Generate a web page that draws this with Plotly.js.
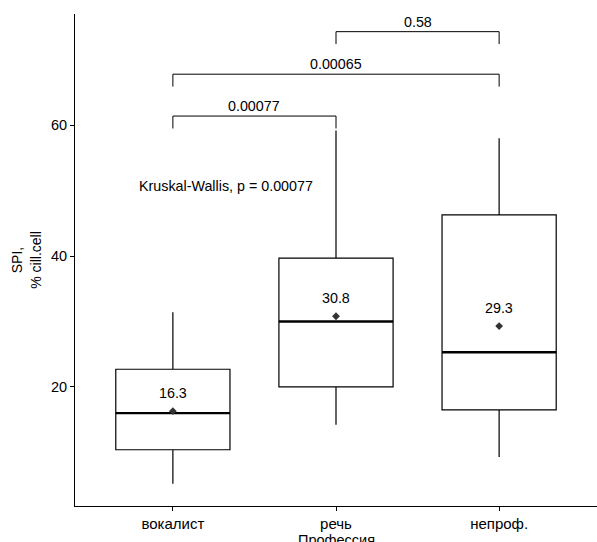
<!DOCTYPE html>
<html>
<head>
<meta charset="utf-8">
<script src="https://cdn.plot.ly/plotly-3.0.1.min.js"></script>
<style>html,body{margin:0;padding:0;background:#fff;}#chart{width:597px;height:542px;}</style>
</head>
<body>
<div id="chart"></div>
<script>
// ---- data ----
const categories = ["вокалист", "речь", "непроф."];
const positions = [1, 2, 3];
const lowerWhisker = [5.2, 14.2, 9.3];
const q1 = [10.4, 20.0, 16.5];
const median = [16.0, 30.0, 25.3];
const q3 = [22.7, 39.7, 46.3];
const upperWhisker = [31.4, 59.2, 58.0];
const means = [16.3, 30.8, 29.3];
const meanLabels = ["16.3", "30.8", "29.3"];

const cmpFrom = [1, 1, 2];
const cmpTo = [2, 3, 3];
const cmpY = [61.4, 67.8, 74.3];
const cmpP = ["0.00077", "0.00065", "0.58"];
const kruskalText = "Kruskal-Wallis, p = 0.00077";
const xTitle = "Профессия";
const yTicks = [20, 40, 60];

// ---- chart ----
const font = "Liberation Sans, Arial, sans-serif";
const txt = 14.3;
const boxW = 0.7;
const traces = [];

traces.push({
  type: "box",
  x: positions,
  q1: q1, median: median, q3: q3,
  lowerfence: lowerWhisker, upperfence: upperWhisker,
  width: boxW,
  fillcolor: "white",
  line: {color: "black", width: 1.2},
  whiskerwidth: 0,
  boxpoints: false,
  showlegend: false,
  hoverinfo: "skip"
});

// thicker median lines (ggplot style)
const mx = [], my = [];
positions.forEach((p, i) => {
  mx.push(p - boxW / 2, p + boxW / 2, null);
  my.push(median[i], median[i], null);
});
traces.push({type: "scatter", mode: "lines", x: mx, y: my,
  line: {color: "black", width: 2.4}, showlegend: false, hoverinfo: "skip"});

// means
traces.push({type: "scatter", mode: "markers", x: positions, y: means,
  marker: {symbol: "diamond", size: 6, color: "#333333"},
  showlegend: false, hoverinfo: "skip"});

// comparison brackets
const tip = 1.9;
const bx = [], by = [];
cmpFrom.forEach((a, i) => {
  const b = cmpTo[i];
  bx.push(a, a, b, b, null);
  by.push(cmpY[i] - tip, cmpY[i], cmpY[i], cmpY[i] - tip, null);
});
traces.push({type: "scatter", mode: "lines", x: bx, y: by,
  line: {color: "black", width: 1}, showlegend: false, hoverinfo: "skip"});

const annotations = [];
means.forEach((m, i) => {
  annotations.push({x: positions[i], y: m, text: meanLabels[i], showarrow: false,
    yshift: 18, font: {family: font, size: txt, color: "black"}});
});
cmpFrom.forEach((a, i) => {
  annotations.push({x: (a + cmpTo[i]) / 2, y: cmpY[i], text: cmpP[i], showarrow: false,
    yanchor: "bottom", yshift: 0, font: {family: font, size: txt, color: "black"}});
});
annotations.push({x: 0.78, y: 50.7, text: kruskalText, showarrow: false, xanchor: "left",
  font: {family: font, size: txt, color: "black"}});
// x-axis title (placed below tick labels, partially cut like the reference)
annotations.push({xref: "paper", yref: "paper", x: 0.5, y: 0, yanchor: "top", yshift: -24,
  text: xTitle, showarrow: false, font: {family: font, size: 14.5, color: "black"}});

const layout = {
  width: 597, height: 542,
  margin: {l: 75, r: 0, t: 14, b: 36},
  paper_bgcolor: "white", plot_bgcolor: "white",
  font: {family: font, size: txt, color: "black"},
  xaxis: {
    range: [0.4, 3.6], tickvals: positions, ticktext: categories,
    showline: true, linecolor: "black", linewidth: 1,
    ticks: "outside", ticklen: 4, tickcolor: "black",
    showgrid: false, zeroline: false,
    tickfont: {family: font, size: 15, color: "black"}
  },
  yaxis: {
    range: [1.8, 77], tickvals: yTicks,
    showline: true, linecolor: "black", linewidth: 1,
    ticks: "outside", ticklen: 4, tickcolor: "black",
    showgrid: false, zeroline: false,
    tickfont: {family: font, size: 14.5, color: "black"},
    title: {text: "SPI,<br>% cill.cell", font: {family: font, size: 14, color: "black"}, standoff: 6}
  },
  annotations: annotations
};

Plotly.newPlot("chart", traces, layout, {displayModeBar: false, staticPlot: true});
</script>
</body>
</html>
